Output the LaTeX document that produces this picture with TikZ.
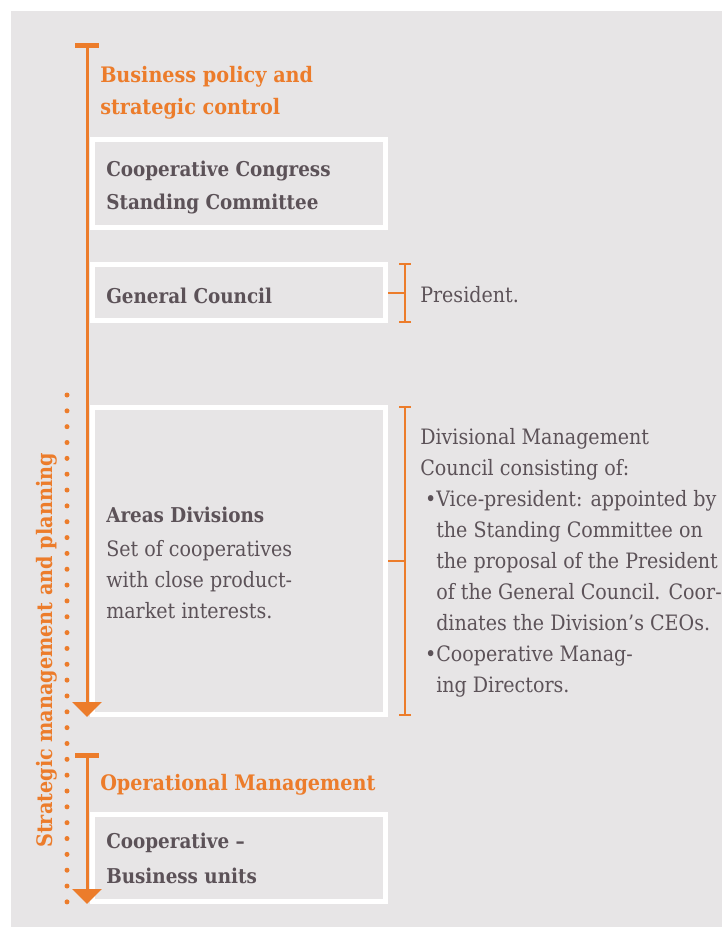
\documentclass[tikz,border=0pt]{standalone}
\usepackage{fontspec}
\setmainfont{DejaVu Serif Condensed}
\usetikzlibrary{arrows.meta,positioning}
\usepackage{xcolor}
\definecolor{panelgray}{RGB}{231,229,230}
\definecolor{coopcolor}{RGB}{236,124,43}
\definecolor{inkcolor}{RGB}{92,82,88}

\begin{document}
\begin{tikzpicture}[
    x=0.75pt, y=-0.75pt,
    every node/.style={font=\fontsize{15.9}{23.2}\selectfont, text=inkcolor, inner sep=0pt},
    organ/.style={rectangle, draw=white, line width=3.75pt, fill=panelgray, minimum width=219.75pt},
    organtitle/.style={font=\fontsize{15.3}{24.75}\selectfont\bfseries, align=left, anchor=base west},
    organtext/.style={align=left, anchor=base west},
    phasetitle/.style={font=\fontsize{16}{24}\selectfont\bfseries, text=coopcolor, align=left, anchor=base west},
    phase/.style={draw=coopcolor, line width=2.25pt, {Bar[width=18pt,line width=3.75pt]}-{Triangle[width=21.75pt,length=11.25pt]}},
    bracket/.style={draw=coopcolor, line width=1.5pt, {Bar[width=9pt]}-{Bar[width=9pt]}},
    tick/.style={draw=coopcolor, line width=1.5pt},
    dots/.style={draw=coopcolor, line width=3.75pt, line cap=round, dash pattern=on 0pt off 11.88pt}
]

% Background panel
\useasboundingbox (0,0) rectangle (722,927);
\fill[white] (0,0) rectangle (722,927);
\fill[panelgray] (11,11) rectangle (722,927);

% Organ boxes
\node[organ, minimum height=66pt] (congress) at (239,183.5) {};
\node[organ, minimum height=42pt] (council) at (239,292.5) {};
\node[organ, minimum height=230.25pt] (areas) at (239,561) {};
\node[organ, minimum height=65.25pt] (units) at (239,858) {};

% Box texts (base = last line)
\node[organtitle] (congresstext) at (106,210) {Cooperative Congress\\Standing Committee};
\node[organtitle] (counciltext) at (106,303) {General Council};
\node[organtitle] (areastitle) at (106,522) {Areas Divisions};
\node[organtext, font=\fontsize{15.9}{22.9}\selectfont] (areastext) at (106,618) {Set of cooperatives\\with close product-\\market interests.};
\node[organtitle, font=\fontsize{15.3}{26}\selectfont\bfseries] (unitstext) at (106,883) {Cooperative --\\Business units};

% Phase headings
\node[phasetitle] (policytitle) at (100,115) {Business policy and\\strategic control};
\node[phasetitle] (opstitle) at (100,790) {Operational Management};
\node[phasetitle, rotate=90] (strategic) at (52,848) {Strategic management and planning};

% Phase arrows
\coordinate (policytop) at (87,43);
\coordinate (policyend) at (87,717);
\coordinate (opstop) at (87,753);
\coordinate (opsend) at (87,904);
\draw[phase] (policytop) -- (policyend);
\draw[phase] (opstop) -- (opsend);

% Dotted span
\coordinate (dottop) at (67,395);
\coordinate (dotend) at (67,902);
\draw[dots] (dottop) -- (dotend);

% President bracket
\coordinate (presup) at (405,263);
\coordinate (preslow) at (405,323);
\draw[bracket] (presup) -- (preslow);
\draw[tick] (council.east) -- (council.east -| presup);
\node[organtext] (president) at (420,302) {President.};

% Divisional council bracket
\coordinate (divup) at (405,406);
\coordinate (divlow) at (405,716);
\draw[bracket] (divup) -- (divlow);
\draw[tick] (areas.east) -- (areas.east -| divup);
\node[organtext] (divcouncil) at (420,692) {Divisional Management\\
    Council consisting of:\\
    \makebox[12pt][r]{\textbullet}Vice-president: appointed by\\
    \hspace*{12pt}the Standing Committee on\\
    \hspace*{12pt}the proposal of the President\\
    \hspace*{12pt}of the General Council. Coor-\\
    \hspace*{12pt}dinates the Division’s CEOs.\\
    \makebox[12pt][r]{\textbullet}Cooperative Manag-\\
    \hspace*{12pt}ing Directors.};

\end{tikzpicture}
\end{document}
